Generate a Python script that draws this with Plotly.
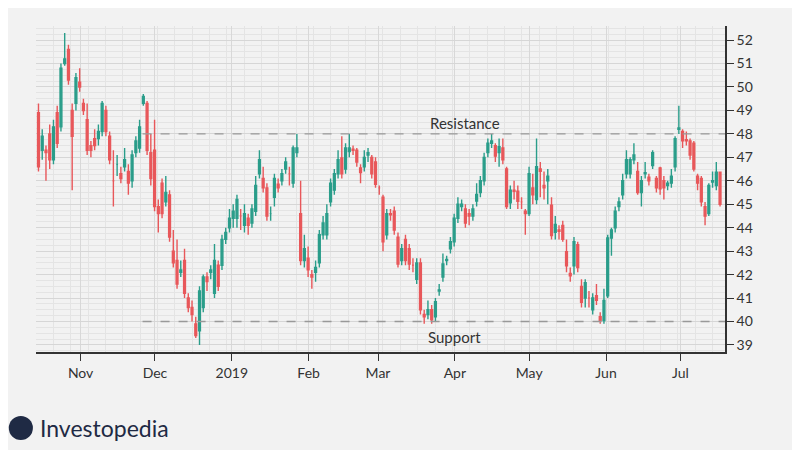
import plotly.graph_objects as go
import pandas as pd

opens = [48.9,47.3,47.3,48.0,46.9,48.9,48.3,51.0,51.6,49.0,
 49.3,50.2,49.3,48.6,47.5,47.8,47.8,48.1,49.0,47.9,
 46.0,46.7,46.3,46.6,46.4,46.0,47.2,47.4,49.3,49.3,
 47.2,47.3,44.9,45.9,45.1,45.4,43.0,42.6,42.1,42.6,
 41.0,40.6,39.9,39.6,40.6,41.9,42.1,41.2,42.4,42.4,
 43.5,44.0,44.4,44.4,44.5,44.1,44.4,44.2,44.7,46.3,
 46.1,45.7,44.6,45.3,45.85,46.0,46.5,46.3,45.9,47.2,
 44.6,42.6,42.7,42.0,42.1,42.5,43.7,43.7,45.1,45.6,
 46.3,46.97,46.5,47.25,47.35,47.3,46.55,46.6,47.1,47.0,
 46.8,45.7,45.3,43.7,44.6,44.7,43.6,42.6,43.5,43.1,
 42.4,41.8,42.5,40.3,40.3,40.5,40.2,41.3,41.9,42.6,
 43.1,43.4,44.4,44.9,44.8,44.6,44.5,45.14,45.5,46.0,
 47.2,47.6,47.5,47.2,47.4,46.5,45.06,45.6,45.56,45.1,
 44.7,44.6,45.7,45.2,46.5,45.8,46.0,44.96,43.8,43.9,
 44.1,42.98,42.05,42.38,43.27,41.5,41.0,41.0,40.5,41.1,
 40.2,40.04,41.1,43.56,44.0,44.9,45.4,46.3,46.3,46.9,
 46.4,45.5,46.3,46.15,46.65,46.1,46.55,46.0,45.8,45.9,
 46.6,48.2,48.1,47.75,47.7,47.6,46.2,46.1,44.9,44.6,
 45.95,45.8,46.37]
closes = [46.6,47.9,47.2,46.9,48.3,47.6,50.8,51.2,50.3,47.9,
 50.4,50.0,49.0,47.3,47.3,47.5,48.1,49.3,48.1,46.9,
 46.0,46.7,46.1,46.9,45.9,47.1,47.7,48.3,49.6,47.3,
 46.1,44.9,44.6,44.6,45.5,43.6,42.5,41.6,42.2,41.2,
 40.6,40.3,39.4,41.3,41.9,41.7,42.2,42.6,41.5,43.5,
 43.8,44.4,44.7,45.2,44.5,44.6,44.1,44.8,45.8,46.9,
 45.7,44.5,44.6,46.1,45.7,46.3,46.8,46.3,47.4,47.4,
 42.6,43.1,42.2,41.9,42.3,43.7,44.2,44.6,45.9,46.3,
 46.9,46.3,47.4,47.4,47.3,46.8,46.35,47.0,47.2,46.3,
 45.85,45.7,43.4,44.6,44.55,43.9,42.45,43.1,42.6,42.45,
 42.4,42.5,40.5,40.2,40.5,40.07,40.85,41.35,42.45,42.65,
 43.4,44.4,45.0,45.0,44.2,44.5,44.8,45.42,46.0,47.0,
 47.6,47.7,47.05,47.45,46.9,44.9,45.6,45.55,45.13,45.1,
 44.6,46.3,45.4,46.6,46.4,45.7,46.2,43.66,44.14,43.85,
 43.5,42.38,41.95,43.4,42.3,40.82,41.66,41.0,41.0,40.9,
 40.04,40.9,43.56,43.9,44.7,45.1,46.0,46.9,46.9,47.1,
 45.5,46.0,46.35,46.0,47.2,45.7,45.66,45.7,45.9,46.2,
 47.8,48.25,47.7,47.7,47.1,46.5,45.9,45.1,44.5,45.8,
 46.0,46.37,45.0]
highs = [49.3,48.2,47.5,48.4,48.6,49.2,51.0,52.3,51.8,49.3,
 50.6,50.8,49.5,49.3,47.7,48.2,48.4,49.4,49.2,48.1,
 47.3,47.1,46.6,47.4,46.7,47.3,47.9,48.6,49.7,49.4,
 48.0,48.6,45.2,46.1,46.2,45.6,43.9,43.5,42.6,43.1,
 41.2,40.9,40.2,41.5,42.0,42.1,42.4,43.3,42.6,43.7,
 44.0,44.8,45.0,45.4,44.8,45.0,44.6,45.0,46.2,47.3,
 46.6,45.9,44.9,46.3,46.1,46.5,47.0,46.6,47.5,48.0,
 46.0,43.7,43.2,42.2,42.6,43.9,44.5,45.0,46.1,46.5,
 47.3,47.9,47.6,48.0,47.5,47.4,46.7,47.3,47.4,47.1,
 47.0,45.8,45.4,44.8,44.8,44.9,43.8,43.3,43.7,43.3,
 42.7,42.7,42.7,40.5,40.9,40.7,41.0,41.6,42.9,42.8,
 43.6,44.6,45.3,45.2,45.0,44.8,45.0,45.9,46.2,47.2,
 47.8,48.0,47.6,47.8,47.8,46.6,45.8,46.0,45.8,45.3,
 44.8,46.6,46.3,47.8,46.8,46.4,46.5,45.3,44.5,44.1,
 44.3,43.5,42.3,43.6,43.4,41.8,41.8,41.3,41.2,41.6,
 40.4,41.4,43.7,44.0,44.9,45.3,46.3,47.3,47.0,47.6,
 46.8,46.2,46.8,46.3,47.3,46.2,46.6,46.2,46.0,46.5,
 47.9,49.2,48.2,48.1,47.8,47.7,46.3,46.2,45.1,45.9,
 46.4,46.8,46.4]
lows = [46.4,46.9,46.0,46.5,46.7,47.4,48.1,50.9,50.1,45.6,
 49.0,49.8,48.8,47.1,47.0,47.3,47.5,47.9,47.9,46.7,
 44.9,46.2,45.9,46.4,45.4,45.7,47.0,47.2,49.2,47.1,
 45.8,44.7,43.8,44.4,44.9,43.4,42.3,41.4,41.9,41.0,
 40.4,40.0,39.3,39.0,40.4,41.3,41.8,41.0,41.3,42.2,
 43.3,43.8,44.0,44.0,43.9,43.8,43.7,44.0,44.5,46.1,
 45.5,44.3,44.3,44.9,45.5,45.8,46.3,45.8,45.7,47.0,
 42.4,42.3,41.9,41.4,41.7,42.3,43.5,43.5,44.9,45.4,
 46.1,46.1,46.3,47.0,47.1,46.6,45.9,46.4,46.8,46.1,
 45.7,45.4,43.0,43.5,44.3,43.7,42.3,42.4,42.4,42.2,
 42.1,41.6,40.3,39.9,40.1,39.9,40.0,41.1,41.7,42.4,
 42.9,43.2,44.2,44.7,44.0,44.1,44.3,44.9,45.3,45.8,
 47.0,47.4,46.8,46.6,46.7,44.8,44.8,45.2,44.8,44.8,
 43.7,44.5,45.0,45.0,45.3,45.2,45.0,43.5,43.5,43.5,
 43.4,42.1,41.7,42.0,42.1,40.6,40.6,40.6,40.3,40.7,
 39.9,39.9,41.0,42.8,43.8,44.7,45.2,46.1,46.1,46.7,
 45.4,44.9,46.1,45.8,46.5,45.5,45.4,45.2,45.6,45.7,
 46.4,48.0,47.4,47.5,46.9,46.4,45.6,44.9,44.1,44.5,
 45.7,45.6,44.9]

tick_dates = ["2018-11-01","2018-12-01","2019-01-01","2019-02-01","2019-03-01",
              "2019-04-01","2019-05-01","2019-06-01","2019-07-01"]
tick_labels = ["Nov","Dec","2019","Feb","Mar","Apr","May","Jun","Jul"]
resistance = 48
support = 40

dates = pd.date_range("2018-10-15", "2019-07-17", periods=len(closes))

GREEN = "#2a9d8a"
RED = "#e8575a"
fig = go.Figure(go.Candlestick(
    x=dates, open=opens, high=highs, low=lows, close=closes,
    increasing=dict(line=dict(color=GREEN, width=1.4), fillcolor=GREEN),
    decreasing=dict(line=dict(color=RED, width=1.4), fillcolor=RED),
    whiskerwidth=0, showlegend=False, hoverinfo="skip"))

for lvl in (resistance, support):
    fig.add_shape(type="line", x0="2018-11-26", x1="2019-07-19", y0=lvl, y1=lvl,
                  line=dict(color="#999999", width=1.3, dash="dash"))

fig.add_annotation(x="2019-04-05", y=resistance, text="Resistance", showarrow=False,
                   yshift=11, font=dict(size=15, color="#333333", family="Lato"))
fig.add_annotation(x="2019-04-01", y=support, text="Support", showarrow=False,
                   yshift=-15, font=dict(size=15, color="#333333", family="Lato"))
fig.add_annotation(x=0.003, y=-0.233, xref="paper", yref="paper", xanchor="left",
                   yanchor="middle", text="Investopedia", showarrow=False,
                   font=dict(size=23, color="#1f2a44", family="Lato"))
fig.add_shape(type="circle", xref="paper", yref="paper", x0=-0.0395, x1=-0.0045,
              y0=-0.27, y1=-0.196, fillcolor="#1f2a44", line=dict(width=0))

grid_minor = "#e4e4e4"
fig.update_layout(
    width=800, height=450,
    margin=dict(l=28, r=83, t=18, b=106),
    paper_bgcolor="#f2f2f2", plot_bgcolor="#f2f2f2",
    font=dict(family="Lato", color="#333333", size=14),
    xaxis=dict(range=["2018-10-14", "2019-07-19"], rangeslider=dict(visible=False),
               tickvals=tick_dates, ticktext=tick_labels, ticks="outside",
               ticklen=7, tickcolor="#333", showline=True, linecolor="#333",
               linewidth=1.5, showgrid=True, gridcolor="#d8d8d8",
               minor=dict(dtick=7*86400000, showgrid=True, gridcolor=grid_minor),
               tickfont=dict(size=14), zeroline=False),
    yaxis=dict(side="right", range=[38.7, 52.6], dtick=1, ticks="outside",
               ticklen=7, tickcolor="#333", showline=True, linecolor="#333",
               linewidth=1.5, gridcolor="#d6d6d6",
               minor=dict(dtick=0.25, showgrid=True, gridcolor=grid_minor),
               tickfont=dict(size=14), zeroline=False),
)
fig.write_html("out.html")
